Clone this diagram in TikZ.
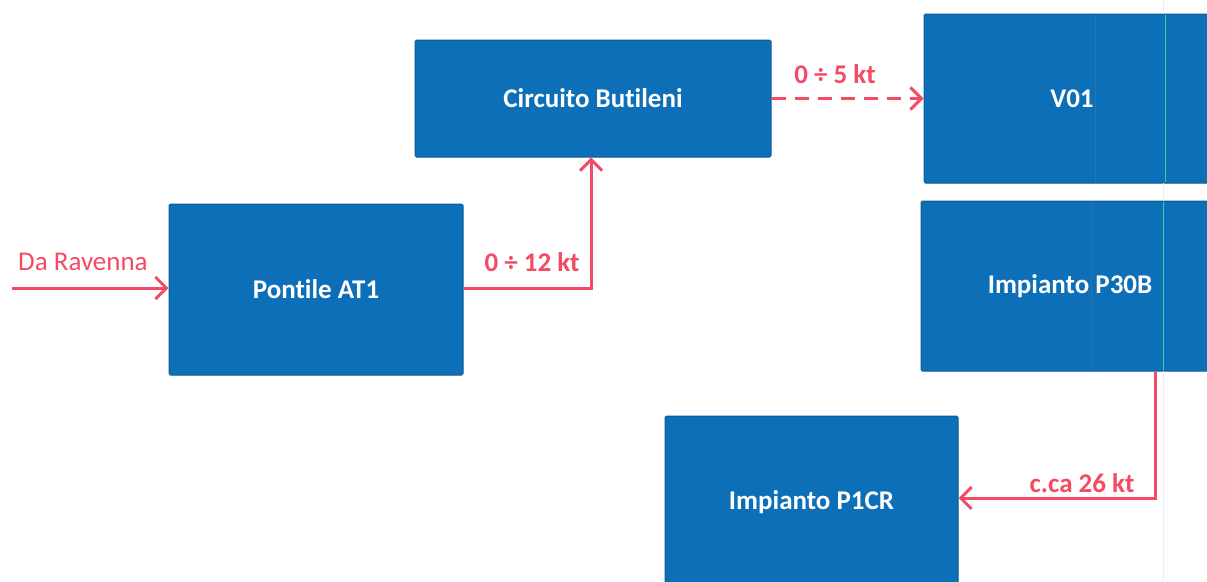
\documentclass[tikz,border=0pt]{standalone}
\usepackage{fontspec}
\setmainfont{Carlito}[Ligatures=NoCommon]
\usetikzlibrary{arrows.meta}
\definecolor{boxblue}{RGB}{12,111,183}
\definecolor{boxedge}{RGB}{10,92,150}
\definecolor{flowred}{RGB}{244,74,100}
\definecolor{scangreen}{RGB}{60,210,150}
\tikzset{
  box/.style={rectangle, fill=boxblue, draw=boxedge, line width=1pt, rounded corners=1.5pt,
    text=white, font=\fontsize{27}{32}\selectfont\bfseries, inner sep=0pt},
  flow/.style={draw=flowred, line width=3pt, -{Straight Barb[length=11pt,width=22pt,line width=3pt]}},
  flowlbl/.style={text=flowred, font=\fontsize{27}{32}\selectfont\bfseries, inner sep=0pt},
  flowlblreg/.style={text=flowred, font=\fontsize{27}{32}\selectfont, inner sep=0pt},
  scanline/.style={line width=0.8pt}
}
\begin{document}
\begin{tikzpicture}[x=1pt,y=-1pt]
\useasboundingbox (0,0) rectangle (1207,581);
\clip (0,0) rectangle (1207,581);
\fill[white] (0,0) rectangle (1207,581);
% boxes
\node[box, minimum width=356pt, minimum height=117pt] (but) at (593,98.5) {Circuito Butileni};
\node[box, minimum width=296pt, minimum height=169pt] (v01) at (1072,98.5) {V01};
\node[box, minimum width=294pt, minimum height=171pt] (pont) at (316,289.5) {Pontile AT1};
\node[box, minimum width=298pt, minimum height=170pt] (p30b) at (1070,286) {Impianto P30B};
\node[box, minimum width=293pt, minimum height=172pt] (p1cr) at (811.5,502) {Impianto P1CR};
% scan artefact lines
\draw[scanline, draw=boxblue!70!gray] (1095,15) -- (1095,182);
\draw[scanline, draw=boxblue!70!gray] (1091,202) -- (1091,370);
\draw[scanline, draw=scangreen] (1165,15) -- (1165,182);
\draw[scanline, draw=scangreen] (1163,202) -- (1163,370);
\draw[line width=0.6pt, draw=gray!15] (1163,0) -- (1163,14);
\draw[line width=0.6pt, draw=gray!15] (1163,183) -- (1163,201);
\draw[line width=0.6pt, draw=gray!15] (1163,371) -- (1163,581);
% connectors
\coordinate (src) at (12,288);
\draw[flow] (src) -- (src -| pont.west);
\draw[flow] ([yshift=1.5pt]pont.east) -| ([xshift=-2pt]but.south);
\draw[flow, dash pattern=on 14pt off 9pt] (but.east) -- (v01.west);
\coordinate (p30out) at ([xshift=85pt]p30b.south);
\draw[flow] (p30out) |- ([yshift=4pt]p1cr.east);
% labels
\node[flowlblreg, anchor=west] (lra) at (18,262) {Da Ravenna};
\node[flowlbl] (l12) at (532,262) {0 ÷ 12 kt};
\node[flowlbl] (l5) at (835,74) {0 ÷ 5 kt};
\node[flowlbl] (l26) at (1082,483) {c.ca 26 kt};
\end{tikzpicture}
\end{document}
